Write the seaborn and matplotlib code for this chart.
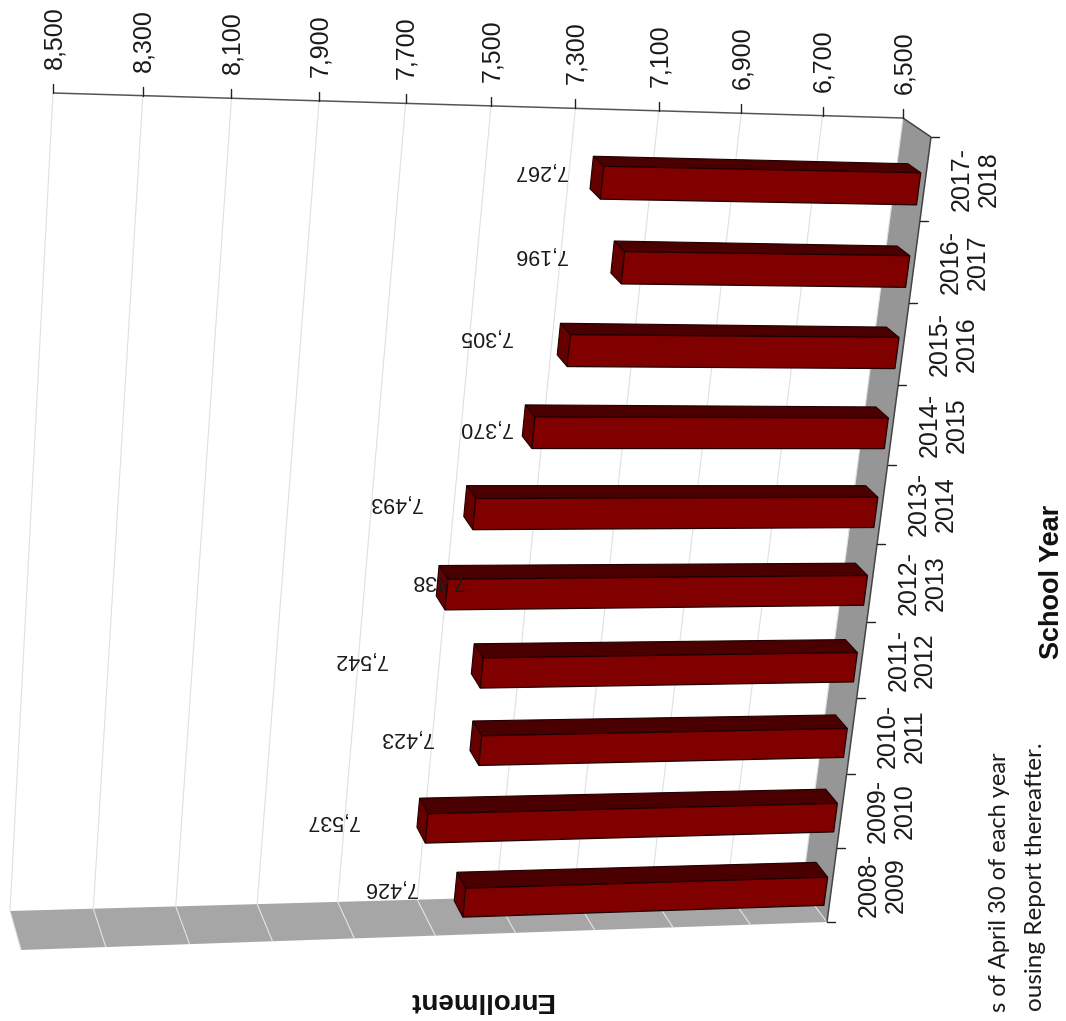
import numpy as np
import pandas as pd
import matplotlib
matplotlib.use("Agg")
import matplotlib.pyplot as plt
from matplotlib.patches import Polygon
from matplotlib.transforms import Transform
import seaborn as sns

# ---------- data ----------
school_years = ["2008-\n2009", "2009-\n2010", "2010-\n2011", "2011-\n2012", "2012-\n2013",
                "2013-\n2014", "2014-\n2015", "2015-\n2016", "2016-\n2017", "2017-\n2018"]
enrollment = [7426, 7537, 7423, 7438, 7542, 7493, 7370, 7305, 7196, 7267]
# the printed labels as they sit in the picture (2011-12 and 2012-13 are swapped there)
label_text = ["7,426", "7,537", "7,423", "7,542", "7,438", "7,493", "7,370", "7,305", "7,196", "7,267"]
value_ticks = [6500, 6700, 6900, 7100, 7300, 7500, 7700, 7900, 8100, 8300, 8500]
tick_text = ["6,500", "6,700", "6,900", "7,100", "7,300", "7,500", "7,700", "7,900", "8,100", "8,300", "8,500"]

# ---------- layout ----------
W, H = 1066, 1021
V0, V1 = value_ticks[0], value_ticks[-1]
C0, C1 = -0.5, len(school_years) - 0.5
SRC = [(V0, C1), (V1, C1), (V1, C0), (V0, C0)]
BACK = [(903, 118), (53, 93), (10, 911), (802, 889)]
FRONT = [(931, 137), (67, 118), (21, 950), (827, 922)]
Z_BACK, Z_FRONT = 0.36, 0.82
BAR_W, BAR_SHIFT = 0.385, -0.16
# centres of the hand-placed data labels, pixels
label_xy = [(390, 887), (332, 820), (406, 737), (360, 659), (437, 580),
            (395, 502), (485, 427), (485, 336), (540, 254), (540, 170)]


def homography(src, dst):
    A, b = [], []
    for (u, v), (x, y) in zip(src, dst):
        A.append([u, v, 1, 0, 0, 0, -u * x, -v * x]); b.append(x)
        A.append([0, 0, 0, u, v, 1, -u * y, -v * y]); b.append(y)
    return np.append(np.linalg.solve(np.array(A, float), np.array(b, float)), 1).reshape(3, 3)


U_SCALE = 1000.0
HB = homography([(u / U_SCALE, v) for u, v in SRC], BACK)
HF = homography([(u / U_SCALE, v) for u, v in SRC], FRONT)


def project(v, c, z=0.0):
    pts = np.column_stack([np.atleast_1d(v) / U_SCALE, np.atleast_1d(c), np.ones(np.size(v))])
    def ap(M):
        q = pts @ M.T
        return q[:, :2] / q[:, 2:]
    return (1 - z) * ap(HB) + z * ap(HF)


class Depth(Transform):
    input_dims = output_dims = 2
    is_separable = False
    has_inverse = False

    def __init__(self, z):
        super().__init__()
        self.z = z

    def transform_non_affine(self, values):
        values = np.asarray(values)
        return project(values[:, 0], values[:, 1], self.z)


sns.set_theme(style="white")
plt.rcParams["font.family"] = ["Liberation Sans", "DejaVu Sans"]
fig = plt.figure(figsize=(W / 100, H / 100), dpi=100, facecolor="white")
ax = fig.add_axes([0, 0, 1, 1])

# front faces through seaborn
df = pd.DataFrame({"year": school_years, "enrollment": enrollment})
sns.barplot(data=df, x="enrollment", y="year", orient="h", order=school_years, color="#800000",
            saturation=1, width=BAR_W, edgecolor="#200000", linewidth=0.9, ax=ax, zorder=6)
front_tf = Depth(Z_FRONT) + ax.transData
for p, val in zip(ax.patches, enrollment):
    p.set_x(V0)
    p.set_width(val - V0)
    p.set_y(p.get_y() + BAR_SHIFT)
    p.set_transform(front_tf)
    p.set_clip_on(False)

ax.set_xlim(0, W)
ax.set_ylim(H, 0)
ax.axis("off")


def quad(corners, **kw):
    xy = np.vstack([project(v, c, z) for v, c, z in corners])
    ax.add_patch(Polygon(xy, closed=True, clip_on=False, **kw))


def seg(a, b, **kw):
    xy = np.vstack([project(*a), project(*b)])
    ax.plot(xy[:, 0], xy[:, 1], clip_on=False, solid_capstyle="butt", **kw)


# floor and side wall
quad([(V0, C0, 0), (V1, C0, 0), (V1, C0, 1), (V0, C0, 1)], facecolor="#a6a6a6", edgecolor="none", zorder=1)
quad([(V0, C0, 0), (V0, C1, 0), (V0, C1, 1), (V0, C0, 1)], facecolor="#969696", edgecolor="none", zorder=1)

# gridlines on wall and floor
for v in value_ticks:
    seg((v, C0, 0), (v, C1, 0), color="#e0e0e0", lw=0.8, zorder=2)
    seg((v, C0, 0), (v, C0, 1), color="#e4e4e4", lw=0.8, zorder=2)

# axis lines and ticks
seg((V0, C1, 0), (V1, C1, 0), color="#555555", lw=1.1, zorder=3)
seg((V0, C1, 0), (V0, C1, 1), color="#444444", lw=1.1, zorder=3)
seg((V0, C1, 1), (V0, C0, 1), color="#444444", lw=1.1, zorder=3)
for v, t in zip(value_ticks, tick_text):
    x, y = project(v, C1, 0)[0]
    ax.plot([x, x], [y, y - 9], color="#222222", lw=1, clip_on=False, zorder=3)
    ax.text(x + 1, y - 24, t, rotation=90, ha="center", va="bottom", fontsize=18, color="#1a1a1a", zorder=7)
for c in np.arange(C0, C1 + 1):
    x, y = project(V0, c, 1)[0]
    ax.plot([x, x + 8], [y, y], color="#222222", lw=1, clip_on=False, zorder=3)

for i, year in enumerate(school_years):
    x, y = project(V0, i, 1)[0]
    ax.text(x + 50, y, year, rotation=90, ha="center", va="center", multialignment="center",
            fontsize=18, linespacing=1.15, color="#1a1a1a", zorder=7)

# 3-D sides of the bars
for i, val in enumerate(enrollment):
    lo, hi = i + BAR_SHIFT - BAR_W / 2, i + BAR_SHIFT + BAR_W / 2
    quad([(V0, hi, Z_BACK), (val, hi, Z_BACK), (val, hi, Z_FRONT), (V0, hi, Z_FRONT)],
         facecolor="#4a0000", edgecolor="#200000", linewidth=0.8, zorder=5)
    quad([(val, hi, Z_BACK), (val, lo, Z_BACK), (val, lo, Z_FRONT), (val, hi, Z_FRONT)],
         facecolor="#660000", edgecolor="#200000", linewidth=0.8, zorder=5)
    ax.text(*label_xy[i], label_text[i], rotation=180, ha="center", va="center",
            fontsize=15.5, color="#1a1a1a", zorder=8)

ax.text(481, 1000, "Enrollment", rotation=180, ha="center", va="center", fontsize=20, fontweight="bold", color="#111111")
ax.text(1052, 582, "School Year", rotation=90, ha="center", va="center", fontsize=19.5, fontweight="bold", color="#111111")
ax.text(1000, 752, "s of April 30 of each year", rotation=90, ha="center", va="top", fontsize=17, family=["Lato"], color="#1a1a1a", clip_on=False)
ax.text(1035, 742, "ousing Report thereafter.", rotation=90, ha="center", va="top", fontsize=17.5, family=["Lato"], color="#1a1a1a", clip_on=False)

fig.savefig("out.png", dpi=100, facecolor="white")
